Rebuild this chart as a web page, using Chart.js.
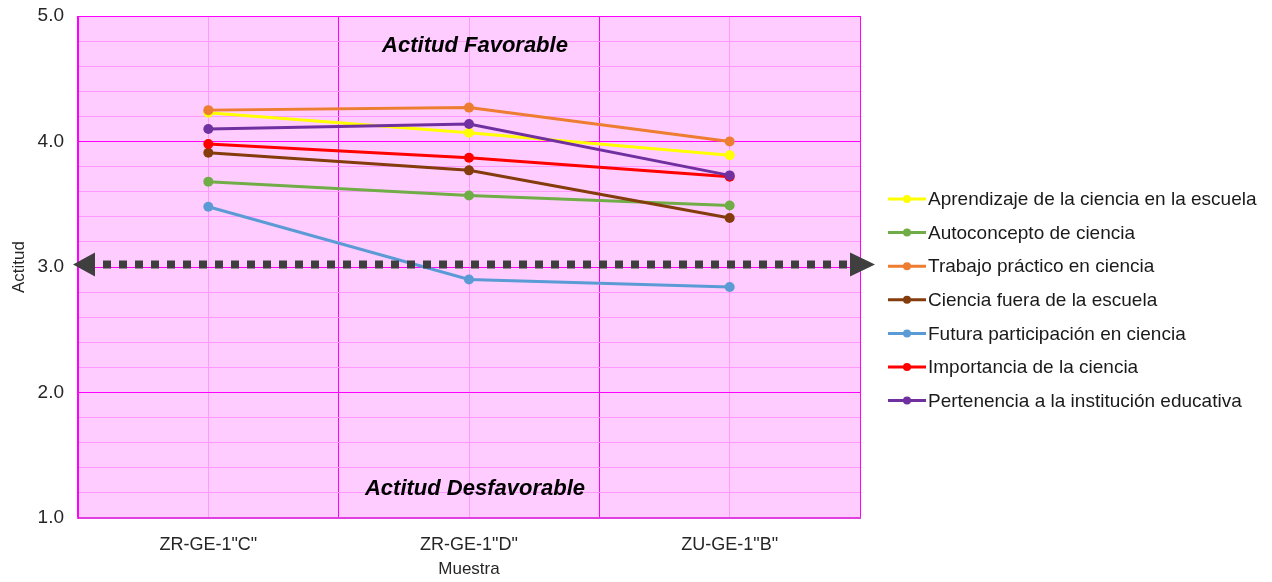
<!DOCTYPE html>
<html>
<head>
<meta charset="utf-8">
<script src="https://cdn.jsdelivr.net/npm/chart.js@4.4.0/dist/chart.umd.min.js"></script>
<style>
  html, body { margin: 0; padding: 0; background: #fff; }
</style>
</head>
<body>
<canvas id="myChart" width="1272" height="582"></canvas>
<script>
const categories = ['ZR-GE-1"C"', 'ZR-GE-1"D"', 'ZU-GE-1"B"'];
const seriesNames = [
  'Aprendizaje de la ciencia en la escuela',
  'Autoconcepto de ciencia',
  'Trabajo práctico en ciencia',
  'Ciencia fuera de la escuela',
  'Futura participación en ciencia',
  'Importancia de la ciencia',
  'Pertenencia a la institución educativa'
];
const aprendizaje = [4.23, 4.07, 3.89];
const autoconcepto = [3.68, 3.57, 3.49];
const trabajoPractico = [4.25, 4.27, 4.00];
const fueraEscuela = [3.91, 3.77, 3.39];
const futuraParticipacion = [3.48, 2.90, 2.84];
const importancia = [3.98, 3.87, 3.72];
const pertenencia = [4.10, 4.14, 3.73];
const yTicks = [1, 2, 3, 4, 5];
const neutralLevel = 3.02;
const zoneLabels = ['Actitud Favorable', 'Actitud Desfavorable'];

const seriesValues = [aprendizaje, autoconcepto, trabajoPractico, fueraEscuela,
  futuraParticipacion, importancia, pertenencia];
const colors = ['#FFFF00', '#70AD47', '#ED7D31', '#843C0C', '#5B9BD5', '#FF0000', '#7030A0'];

const datasets = seriesNames.map((name, i) => ({
  label: name,
  data: seriesValues[i],
  borderColor: colors[i],
  backgroundColor: colors[i],
  borderWidth: 3,
  pointRadius: 5,
  pointHoverRadius: 5,
  pointBorderWidth: 0,
  tension: 0,
  order: seriesNames.length - i // later series on top, like the original
}));

// pink plot background
const plotBg = {
  id: 'plotBg',
  beforeDraw(chart) {
    const { ctx, chartArea: a } = chart;
    ctx.save();
    ctx.fillStyle = '#FFCCFF';
    ctx.fillRect(a.left, a.top, a.right - a.left, a.bottom - a.top);
    ctx.restore();
  }
};

// dotted double arrow at the neutral level + zone labels
const overlay = {
  id: 'overlay',
  afterDatasetsDraw(chart) {
    const { ctx, chartArea: a } = chart;
    const y = chart.scales.y.getPixelForValue(neutralLevel);
    const tipL = a.left - 5, tipR = a.right + 15;
    const baseL = tipL + 22, baseR = tipR - 25;
    ctx.save();
    ctx.strokeStyle = '#3F3F3F';
    ctx.fillStyle = '#3F3F3F';
    ctx.lineWidth = 8;
    ctx.setLineDash([8, 8]);
    ctx.beginPath();
    ctx.moveTo(baseL + 8, y);
    ctx.lineTo(baseR, y);
    ctx.stroke();
    ctx.setLineDash([]);
    ctx.beginPath();
    ctx.moveTo(tipL, y);
    ctx.lineTo(baseL, y - 12);
    ctx.lineTo(baseL, y + 12);
    ctx.closePath();
    ctx.fill();
    ctx.beginPath();
    ctx.moveTo(tipR, y);
    ctx.lineTo(baseR, y - 12);
    ctx.lineTo(baseR, y + 12);
    ctx.closePath();
    ctx.fill();

    const cx = (a.left + a.right) / 2 + 6;
    ctx.font = 'italic bold 22px "Liberation Sans", Arial, sans-serif';
    ctx.fillStyle = '#000';
    ctx.textAlign = 'center';
    ctx.textBaseline = 'middle';
    ctx.fillText(zoneLabels[0], cx, chart.scales.y.getPixelForValue(4.76));
    ctx.fillText(zoneLabels[1], cx, chart.scales.y.getPixelForValue(1.23));
    ctx.restore();
  }
};

// legend on the right: line with marker + text
const sideLegend = {
  id: 'sideLegend',
  afterDraw(chart) {
    const { ctx } = chart;
    const x0 = 888, y0 = 199, step = 33.6;
    ctx.save();
    ctx.font = '19px "Liberation Sans", Arial, sans-serif';
    ctx.textBaseline = 'middle';
    ctx.textAlign = 'left';
    chart.data.datasets.forEach((ds, i) => {
      const y = y0 + i * step;
      ctx.strokeStyle = ds.borderColor;
      ctx.lineWidth = 3;
      ctx.beginPath();
      ctx.moveTo(x0, y);
      ctx.lineTo(x0 + 38, y);
      ctx.stroke();
      ctx.fillStyle = ds.backgroundColor;
      ctx.beginPath();
      ctx.arc(x0 + 19, y, 4, 0, Math.PI * 2);
      ctx.fill();
      ctx.fillStyle = '#1a1a1a';
      ctx.fillText(ds.label, x0 + 40, y + 1);
    });
    ctx.restore();
  }
};

const ctx = document.getElementById('myChart').getContext('2d');

new Chart(ctx, {
  type: 'line',
  data: {
    labels: categories,
    datasets: datasets
  },
  options: {
    responsive: false,
    animation: false,
    layout: { padding: { top: 16, right: 412, left: 0, bottom: 0 } },
    scales: {
      x: {
        type: 'category',
        offset: true,
        grid: { offset: true, color: '#FF00FF', lineWidth: 1, drawTicks: false },
        border: { color: '#E040E0', width: 2 },
        ticks: {
          color: '#262626',
          padding: 16,
          font: { family: '"Liberation Sans", Arial, sans-serif', size: 18 }
        },
        title: {
          display: true,
          text: 'Muestra',
          color: '#262626',
          padding: { top: 0, bottom: 2 },
          font: { family: '"Liberation Sans", Arial, sans-serif', size: 17 }
        },
        afterFit(scale) { scale.height = 64; }
      },
      x2: {
        type: 'category',
        labels: categories,
        offset: true,
        position: 'bottom',
        grid: { offset: false, color: '#FF99FF', lineWidth: 1, drawTicks: false },
        border: { display: false },
        ticks: { display: false },
        afterFit(scale) { scale.height = 0; }
      },
      y: {
        min: 1,
        max: 5,
        ticks: {
          stepSize: 0.2,
          autoSkip: false,
          padding: 14,
          color: '#262626',
          font: { family: '"Liberation Sans", Arial, sans-serif', size: 19 },
          callback: (v) => yTicks.some(t => Math.abs(t - v) < 1e-6) ? Number(v).toFixed(1) : ''
        },
        grid: {
          drawTicks: false,
          lineWidth: 1,
          color: (c) => yTicks.some(t => Math.abs(t - c.tick.value) < 1e-6) ? '#FF00FF' : '#FF99FF'
        },
        border: { color: '#FF00FF' },
        title: {
          display: true,
          text: 'Actitud',
          color: '#262626',
          padding: { top: 9, bottom: 0 },
          font: { family: '"Liberation Sans", Arial, sans-serif', size: 17 }
        },
        afterFit(scale) {
          scale.width = 78;
          scale.paddingTop = 0;
          scale.paddingBottom = 0;
        }
      }
    },
    plugins: {
      legend: { display: false },
      tooltip: { enabled: false }
    }
  },
  plugins: [plotBg, overlay, sideLegend]
});
</script>
</body>
</html>
